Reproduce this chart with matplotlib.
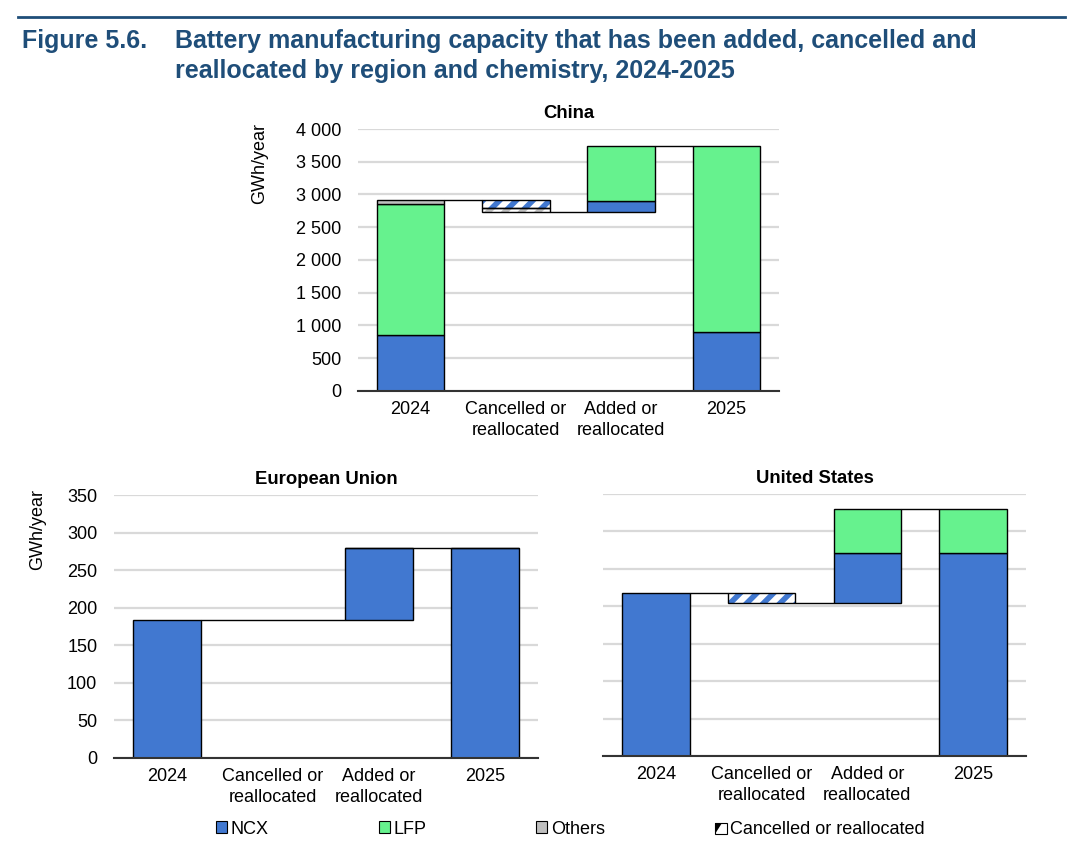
import matplotlib
matplotlib.use('Agg')
import matplotlib.pyplot as plt
from matplotlib.patches import Patch, Rectangle, Polygon
from matplotlib.ticker import FuncFormatter
import numpy as np

plt.rcParams['font.family'] = ['Liberation Sans', 'DejaVu Sans']
plt.rcParams['hatch.linewidth'] = 4

# Data (GWh/year)
categories = ['2024', 'Cancelled or\nreallocated', 'Added or\nreallocated', '2025']

china_ncx = [850, 125, 170, 895]
china_lfp = [2010, 0, 830, 2840]
china_others = [60, 60, 0, 0]

eu_ncx = [184, 0, 95, 279]
eu_lfp = [0, 0, 1, 1]
eu_others = [0, 0, 0, 0]

us_ncx = [218, 13, 66, 271]
us_lfp = [0, 0, 59, 59]
us_others = [0, 0, 0, 0]

NCX_C = '#4178D0'
LFP_C = '#66F28E'
OTH_C = '#BFBFBF'
TITLE_C = '#1F4E79'
colors = [NCX_C, LFP_C, OTH_C]
BW = 0.64
FS = 13


def waterfall(ax, ncx, lfp, oth, title, ymax, step, ylab=True):
    series = [ncx, lfp, oth]
    x = np.arange(len(categories))
    # 2024 stacked bar
    bottom = 0
    for s, c in zip(series, colors):
        if s[0] > 0:
            ax.bar(x[0], s[0], BW, bottom=bottom, color=c, edgecolor='black', linewidth=1, zorder=3)
            bottom += s[0]
    start = bottom
    # cancelled (stack downward from the start level, hatched)
    top = start
    for s, c in zip(series, colors):
        if s[1] > 0:
            ax.bar(x[1], s[1], BW, bottom=top - s[1], color='white', edgecolor=c,
                   hatch='//', linewidth=0, zorder=3)
            ax.bar(x[1], s[1], BW, bottom=top - s[1], fill=False, edgecolor='black',
                   linewidth=1, zorder=4)
            top -= s[1]
    low = top
    # added (stack upward from the low level)
    bottom = low
    for s, c in zip(series, colors):
        if s[2] > 0:
            ax.bar(x[2], s[2], BW, bottom=bottom, color=c, edgecolor='black', linewidth=1, zorder=3)
            bottom += s[2]
    high = bottom
    # 2025 stacked bar
    bottom = 0
    for s, c in zip(series, colors):
        if s[3] > 0:
            ax.bar(x[3], s[3], BW, bottom=bottom, color=c, edgecolor='black', linewidth=1, zorder=3)
            bottom += s[3]

    # connector lines
    if sum(s[1] for s in series) > 0:
        ax.hlines(start, x[0] + BW / 2, x[1] - BW / 2, color='black', lw=1, zorder=4)
        ax.hlines(low, x[1] + BW / 2, x[2] - BW / 2, color='black', lw=1, zorder=4)
    else:
        ax.hlines(start, x[0] + BW / 2, x[2] - BW / 2, color='black', lw=1, zorder=4)
    ax.hlines(high, x[2] + BW / 2, x[3] - BW / 2, color='black', lw=1, zorder=4)

    ax.set_xlim(-0.5, 3.5)
    ax.set_ylim(0, ymax)
    ax.set_yticks(np.arange(0, ymax + 1, step))
    ax.yaxis.set_major_formatter(FuncFormatter(lambda v, p: f'{int(v):,}'.replace(',', ' ')))
    ax.set_xticks(x)
    ax.set_xticklabels(categories, fontsize=FS, linespacing=1.3)
    ax.tick_params(axis='both', length=0, labelsize=FS)
    ax.tick_params(axis='x', pad=7)
    ax.tick_params(axis='y', pad=12)
    ax.grid(axis='y', color='#D9D9D9', lw=1.6, zorder=0)
    ax.set_axisbelow(True)
    for sp in ['top', 'right', 'left']:
        ax.spines[sp].set_visible(False)
    ax.spines['bottom'].set_color('#333333')
    ax.spines['bottom'].set_linewidth(1.5)
    ax.spines['bottom'].set_zorder(5)
    ax.set_title(title, fontsize=13.3, fontweight='bold', pad=8)
    if ylab:
        ax.set_ylabel('GWh/year', fontsize=FS)
    else:
        ax.tick_params(axis='y', labelleft=False)


W, H = 1080, 843
fig = plt.figure(figsize=(W / 100, H / 100), dpi=100)


def px_axes(x0, x1, ytop, ybot):
    return fig.add_axes([x0 / W, 1 - ybot / H, (x1 - x0) / W, (ybot - ytop) / H])


ax_cn = px_axes(358, 779, 129, 391)
ax_eu = px_axes(114, 538, 495, 758)
ax_us = px_axes(603, 1026, 494, 756)

waterfall(ax_cn, china_ncx, china_lfp, china_others, 'China', 4000, 500)
waterfall(ax_eu, eu_ncx, eu_lfp, eu_others, 'European Union', 350, 50)
waterfall(ax_us, us_ncx, us_lfp, us_others, 'United States', 350, 50, ylab=False)
ax_cn.yaxis.set_label_coords(-0.214, 0.87)
ax_eu.yaxis.set_label_coords(-0.161, 0.87)

# header rule and title
fig.add_artist(plt.Line2D([18 / W, 1065 / W], [1 - 17 / H, 1 - 17 / H], color=TITLE_C, lw=2))
fig.text(22 / W, 1 - 41 / H, 'Figure 5.6.', fontsize=18, fontweight='bold', color=TITLE_C, va='center')
fig.text(175 / W, 1 - 56 / H,
         'Battery manufacturing capacity that has been added, cancelled and\n'
         'reallocated by region and chemistry, 2024-2025',
         fontsize=18, fontweight='bold', color=TITLE_C, va='center', linespacing=1.35)


# legend
class HalfSquare:
    def legend_artist(self, legend, orig_handle, fontsize, handlebox):
        x0, y0 = handlebox.xdescent, handlebox.ydescent
        s = handlebox.height
        tr = handlebox.get_transform()
        sq = Rectangle((x0, y0), s, s, facecolor='white', edgecolor='black', lw=0.8, transform=tr)
        tri = Polygon([(x0, y0), (x0, y0 + s), (x0 + s * 0.6, y0 + s)], closed=True,
                      facecolor='black', edgecolor='none', transform=tr)
        handlebox.add_artist(sq)
        handlebox.add_artist(tri)
        return sq


class Cancelled:
    pass


handles = [Patch(facecolor=NCX_C, edgecolor='black', lw=0.8),
           Patch(facecolor=LFP_C, edgecolor='black', lw=0.8),
           Patch(facecolor=OTH_C, edgecolor='black', lw=0.8),
           Cancelled()]
labels = ['NCX', 'LFP', 'Others', 'Cancelled or reallocated']
fig.legend(handles, labels, loc='center', bbox_to_anchor=(0.528, 1 - 829 / H), ncol=4,
           frameon=False, fontsize=FS, handlelength=0.6, handleheight=0.6,
           handletextpad=0.2, columnspacing=6.1, handler_map={Cancelled: HalfSquare()})

fig.savefig('out.png', dpi=100)
